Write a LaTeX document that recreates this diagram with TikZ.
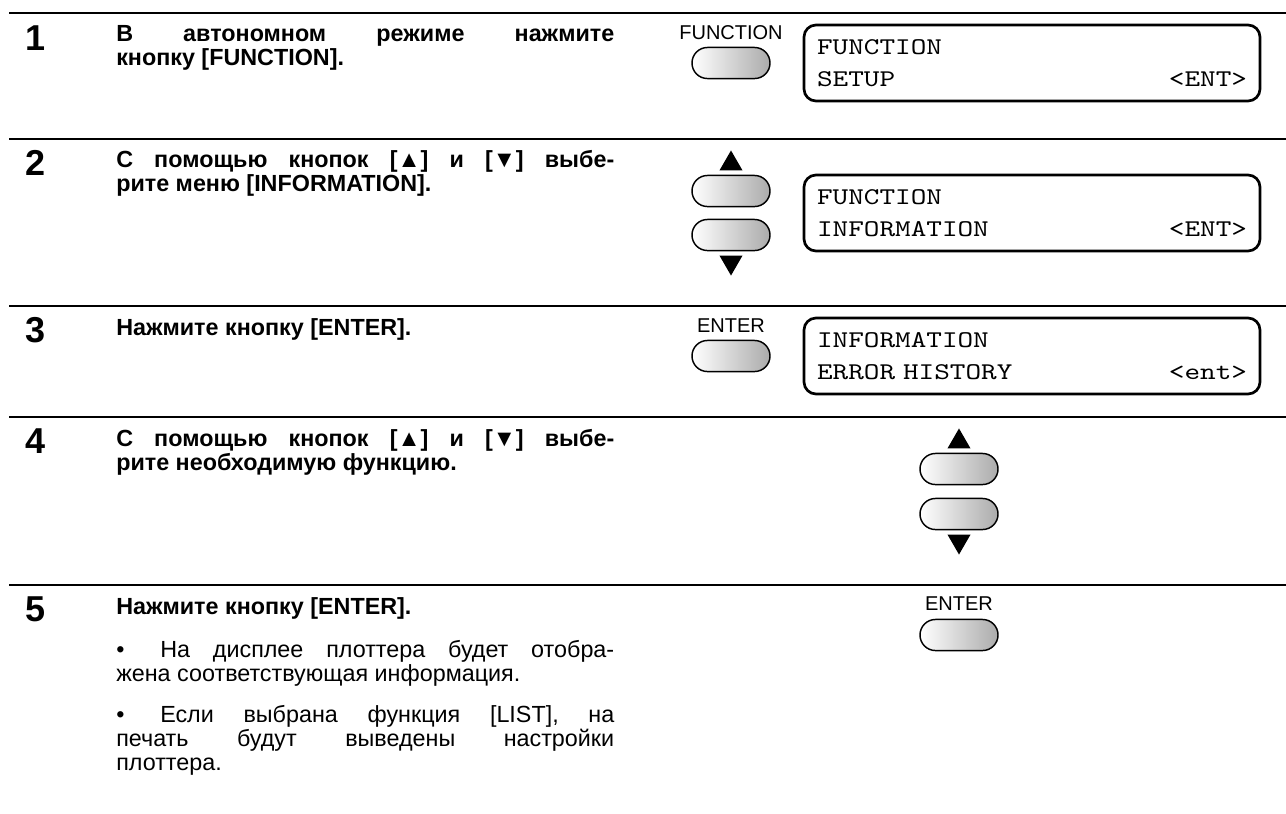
\documentclass[tikz,border=0pt]{standalone}
\usepackage{fontspec}
\setmainfont{Liberation Sans}
\newfontfamily\lcdfont{lmmono10-regular.otf}[FakeStretch=1.24]
\usetikzlibrary{positioning, shapes.geometric}
\definecolor{keyshade}{HTML}{ABABAB}

\begin{document}
\begin{tikzpicture}[x=0.75pt, y=-0.75pt,
  rulebar/.style={line width=1.9pt},
  stepnum/.style={anchor=base west, inner sep=0pt, font=\fontsize{27}{27}\selectfont\bfseries},
  steptext/.style={anchor=north west, inner sep=0pt, text width=373.5pt, align=justify, font=\fontsize{17.5}{18}\selectfont\bfseries},
  notetext/.style={steptext, font=\fontsize{17.5}{18}\selectfont},
  keylabel/.style={anchor=north, inner sep=0pt, font=\fontsize{15}{15}\selectfont},
  keybtn/.style={draw, line width=1.1pt, rounded corners=11.6pt, minimum width=58.5pt, minimum height=23.3pt, inner sep=0pt, left color=white, right color=keyshade},
  uptri/.style={fill, regular polygon, regular polygon sides=3, minimum size=20pt, inner sep=0pt},
  downtri/.style={uptri, shape border rotate=180},
  lcd/.style={draw, line width=2pt, rounded corners=9pt, minimum height=57pt, text width=322.5pt, inner xsep=9.75pt, inner ysep=0pt, align=left, font=\lcdfont\fontsize{18}{24}\selectfont},
]
  \useasboundingbox (0,0) rectangle (1286,814);

  % Separators
  \foreach \y in {13,139,306,417,585}
    \draw[rulebar] (9,\y) -- (1286,\y);

  % Step 1
  \node[stepnum] (n1) at (25,50) {1};
  \node[steptext] (t1) at (116,25) {В автономном режиме нажмите\linebreak кнопку [FUNCTION].};
  \node[keylabel] (fnlab) at (731,25) {FUNCTION};
  \node[keybtn] (fnkey) at (731,63) {};
  \node[lcd] (lcd1) at (1032,63) {FUNCTION\\SETUP\hfill<ENT>};

  % Step 2
  \node[stepnum] (n2) at (25,175) {2};
  \node[steptext] (t2) at (116,150) {С помощью кнопок [▲] и [▼] выбе-\linebreak рите меню [INFORMATION].};
  \node[keybtn] (upkey2) at (731,191) {};
  \node[keybtn] (dnkey2) at (731,235) {};
  \node[uptri, above=3pt of upkey2] (uparr2) {};
  \node[downtri, below=3pt of dnkey2] (dnarr2) {};
  \node[lcd] (lcd2) at (1032,213) {FUNCTION\\INFORMATION\hfill<ENT>};

  % Step 3
  \node[stepnum] (n3) at (25,342) {3};
  \node[steptext] (t3) at (116,318) {Нажмите кнопку [ENTER].};
  \node[keylabel] (entlab3) at (731,318) {ENTER};
  \node[keybtn] (entkey3) at (731,356) {};
  \node[lcd] (lcd3) at (1032,356) {INFORMATION\\ERROR HISTORY\hfill<ent>};

  % Step 4
  \node[stepnum] (n4) at (25,453) {4};
  \node[steptext] (t4) at (116,429) {С помощью кнопок [▲] и [▼] выбе-\linebreak рите необходимую функцию.};
  \node[keybtn] (upkey4) at (959,469) {};
  \node[keybtn] (dnkey4) at (959,514) {};
  \node[uptri, above=3pt of upkey4] (uparr4) {};
  \node[downtri, below=3pt of dnkey4] (dnarr4) {};

  % Step 5
  \node[stepnum] (n5) at (25,621) {5};
  \node[steptext] (t5) at (116,597) {Нажмите кнопку [ENTER].};
  \node[notetext] (note1) at (116,640) {\makebox[33pt][l]{•}На дисплее плоттера будет отобра-\linebreak жена соответствующая информация.};
  \node[notetext] (note2) at (116,705) {\makebox[33pt][l]{•}Если выбрана функция [LIST], на\linebreak печать будут выведены настройки\linebreak плоттера.};
  \node[keylabel] (entlab5) at (959,596) {ENTER};
  \node[keybtn] (entkey5) at (959,635) {};
\end{tikzpicture}
\end{document}
